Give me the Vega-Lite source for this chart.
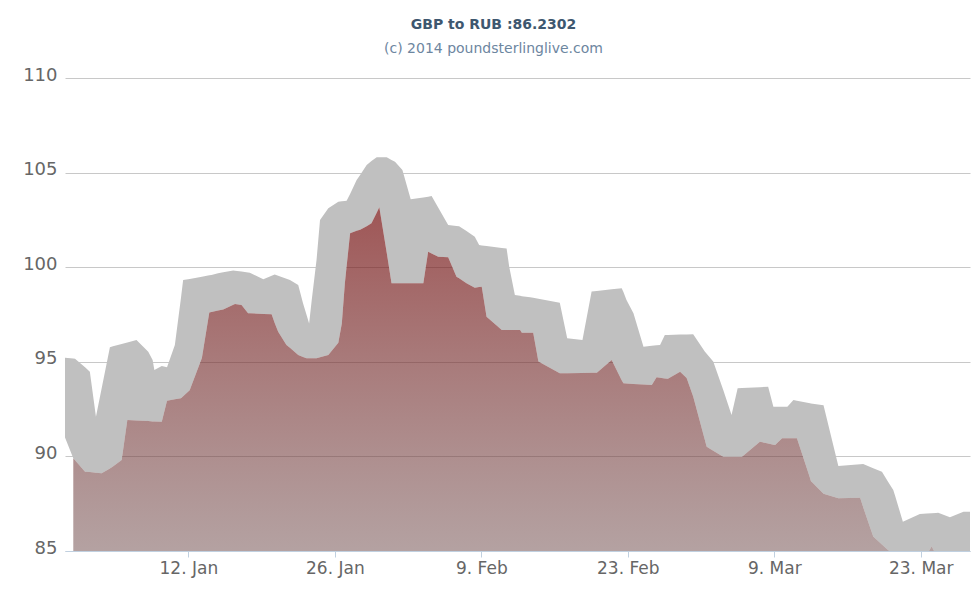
{
  "$schema": "https://vega.github.io/schema/vega-lite/v6.json",
  "width": 905,
  "height": 473,
  "autosize": {"type": "none"},
  "padding": {"left": 65, "top": 78, "right": 2, "bottom": 48},
  "background": "white",
  "config": {"view": {"stroke": null}, "font": "DejaVu Sans"},
  "title": {
    "text": "GBP to RUB :86.2302",
    "subtitle": "(c) 2014 poundsterlinglive.com",
    "anchor": "middle",
    "frame": "group",
    "dx": -24,
    "offset": 10,
    "font": "DejaVu Sans",
    "fontSize": 14,
    "fontWeight": "bold",
    "color": "#3E576F",
    "subtitleFont": "DejaVu Sans",
    "subtitleFontSize": 14,
    "subtitleColor": "#6D869F",
    "subtitlePadding": 10
  },
  "data": {"values": [
    {"date": "2014-12-31T05:00", "rate": 91.0, "upper": 95.22},
    {"date": "2015-01-01T00:00", "rate": 89.90, "upper": 95.17},
    {"date": "2015-01-01T04:00", "rate": 89.80, "upper": 95.16},
    {"date": "2015-01-02T03:00", "rate": 89.19, "upper": 94.71},
    {"date": "2015-01-02T14:00", "rate": 89.17, "upper": 94.48},
    {"date": "2015-01-03T04:00", "rate": 89.14, "upper": 92.10},
    {"date": "2015-01-03T17:00", "rate": 89.11, "upper": 93.59},
    {"date": "2015-01-04T12:00", "rate": 89.36, "upper": 95.77},
    {"date": "2015-01-04T19:00", "rate": 89.46, "upper": 95.82},
    {"date": "2015-01-05T15:00", "rate": 89.81, "upper": 95.94},
    {"date": "2015-01-06T04:00", "rate": 91.92, "upper": 96.02},
    {"date": "2015-01-07T01:00", "rate": 91.90, "upper": 96.15},
    {"date": "2015-01-08T04:00", "rate": 91.87, "upper": 95.53},
    {"date": "2015-01-08T14:00", "rate": 91.85, "upper": 95.10},
    {"date": "2015-01-08T18:00", "rate": 91.85, "upper": 94.57},
    {"date": "2015-01-09T11:00", "rate": 91.83, "upper": 94.78},
    {"date": "2015-01-09T23:00", "rate": 92.94, "upper": 94.71},
    {"date": "2015-01-10T17:00", "rate": 93.02, "upper": 95.89},
    {"date": "2015-01-11T07:00", "rate": 93.07, "upper": 98.37},
    {"date": "2015-01-11T12:00", "rate": 93.18, "upper": 99.32},
    {"date": "2015-01-12T03:00", "rate": 93.50, "upper": 99.38},
    {"date": "2015-01-13T07:00", "rate": 95.20, "upper": 99.50},
    {"date": "2015-01-14T00:00", "rate": 97.60, "upper": 99.57},
    {"date": "2015-01-14T05:00", "rate": 97.63, "upper": 99.59},
    {"date": "2015-01-14T20:00", "rate": 97.71, "upper": 99.68},
    {"date": "2015-01-15T08:00", "rate": 97.77, "upper": 99.73},
    {"date": "2015-01-16T07:00", "rate": 98.01, "upper": 99.82},
    {"date": "2015-01-16T11:00", "rate": 98.05, "upper": 99.81},
    {"date": "2015-01-17T02:00", "rate": 98.00, "upper": 99.77},
    {"date": "2015-01-17T17:00", "rate": 97.56, "upper": 99.72},
    {"date": "2015-01-17T21:00", "rate": 97.56, "upper": 99.71},
    {"date": "2015-01-19T04:00", "rate": 97.53, "upper": 99.36},
    {"date": "2015-01-19T23:00", "rate": 97.51, "upper": 99.55},
    {"date": "2015-01-20T06:00", "rate": 97.05, "upper": 99.62},
    {"date": "2015-01-20T14:00", "rate": 96.59, "upper": 99.55},
    {"date": "2015-01-21T09:00", "rate": 95.89, "upper": 99.39},
    {"date": "2015-01-21T17:00", "rate": 95.74, "upper": 99.32},
    {"date": "2015-01-22T12:00", "rate": 95.36, "upper": 99.06},
    {"date": "2015-01-22T23:00", "rate": 95.26, "upper": 98.09},
    {"date": "2015-01-23T07:00", "rate": 95.19, "upper": 97.49},
    {"date": "2015-01-23T13:00", "rate": 95.19, "upper": 97.03},
    {"date": "2015-01-23T19:00", "rate": 95.19, "upper": 98.27},
    {"date": "2015-01-24T06:00", "rate": 95.19, "upper": 100.38},
    {"date": "2015-01-24T14:00", "rate": 95.24, "upper": 102.49},
    {"date": "2015-01-25T09:00", "rate": 95.36, "upper": 103.11},
    {"date": "2015-01-26T08:00", "rate": 96.01, "upper": 103.46},
    {"date": "2015-01-26T16:00", "rate": 97.03, "upper": 103.48},
    {"date": "2015-01-26T23:00", "rate": 99.15, "upper": 103.50},
    {"date": "2015-01-27T03:00", "rate": 100.05, "upper": 103.51},
    {"date": "2015-01-27T11:00", "rate": 101.79, "upper": 103.87},
    {"date": "2015-01-28T02:00", "rate": 101.92, "upper": 104.61},
    {"date": "2015-01-28T10:00", "rate": 101.98, "upper": 104.87},
    {"date": "2015-01-29T01:00", "rate": 102.17, "upper": 105.40},
    {"date": "2015-01-29T12:00", "rate": 102.32, "upper": 105.61},
    {"date": "2015-01-30T00:00", "rate": 102.88, "upper": 105.81},
    {"date": "2015-01-30T06:00", "rate": 103.17, "upper": 105.81},
    {"date": "2015-01-30T23:00", "rate": 100.77, "upper": 105.81},
    {"date": "2015-01-31T10:00", "rate": 99.15, "upper": 105.67},
    {"date": "2015-01-31T18:00", "rate": 99.15, "upper": 105.58},
    {"date": "2015-02-01T11:00", "rate": 99.15, "upper": 105.14},
    {"date": "2015-02-02T06:00", "rate": 99.15, "upper": 103.59},
    {"date": "2015-02-03T11:00", "rate": 99.15, "upper": 103.69},
    {"date": "2015-02-03T22:00", "rate": 100.82, "upper": 103.73},
    {"date": "2015-02-04T06:00", "rate": 100.73, "upper": 103.76},
    {"date": "2015-02-04T21:00", "rate": 100.55, "upper": 103.15},
    {"date": "2015-02-05T20:00", "rate": 100.52, "upper": 102.23},
    {"date": "2015-02-06T15:00", "rate": 99.50, "upper": 102.18},
    {"date": "2015-02-06T21:00", "rate": 99.41, "upper": 102.17},
    {"date": "2015-02-07T14:00", "rate": 99.15, "upper": 101.91},
    {"date": "2015-02-08T09:00", "rate": 98.92, "upper": 101.61},
    {"date": "2015-02-08T19:00", "rate": 98.95, "upper": 101.17},
    {"date": "2015-02-09T01:00", "rate": 98.97, "upper": 101.15},
    {"date": "2015-02-09T12:00", "rate": 97.38, "upper": 101.12},
    {"date": "2015-02-10T23:00", "rate": 96.68, "upper": 101.02},
    {"date": "2015-02-11T10:00", "rate": 96.68, "upper": 100.99},
    {"date": "2015-02-11T16:00", "rate": 96.68, "upper": 100.03},
    {"date": "2015-02-12T05:00", "rate": 96.68, "upper": 98.53},
    {"date": "2015-02-12T17:00", "rate": 96.68, "upper": 98.49},
    {"date": "2015-02-12T21:00", "rate": 96.54, "upper": 98.47},
    {"date": "2015-02-13T16:00", "rate": 96.54, "upper": 98.41},
    {"date": "2015-02-13T23:00", "rate": 96.54, "upper": 98.38},
    {"date": "2015-02-14T11:00", "rate": 95.01, "upper": 98.33},
    {"date": "2015-02-16T12:00", "rate": 94.39, "upper": 98.12},
    {"date": "2015-02-17T05:00", "rate": 94.40, "upper": 96.24},
    {"date": "2015-02-18T16:00", "rate": 94.41, "upper": 96.15},
    {"date": "2015-02-19T13:00", "rate": 94.42, "upper": 98.71},
    {"date": "2015-02-20T01:00", "rate": 94.42, "upper": 98.74},
    {"date": "2015-02-21T11:00", "rate": 95.10, "upper": 98.83},
    {"date": "2015-02-22T10:00", "rate": 94.03, "upper": 98.89},
    {"date": "2015-02-22T14:00", "rate": 93.86, "upper": 98.69},
    {"date": "2015-02-22T21:00", "rate": 93.85, "upper": 98.27},
    {"date": "2015-02-23T13:00", "rate": 93.83, "upper": 97.56},
    {"date": "2015-02-24T12:00", "rate": 93.80, "upper": 95.80},
    {"date": "2015-02-25T07:00", "rate": 93.77, "upper": 95.85},
    {"date": "2015-02-25T18:00", "rate": 94.18, "upper": 95.87},
    {"date": "2015-02-26T02:00", "rate": 94.16, "upper": 95.89},
    {"date": "2015-02-26T13:00", "rate": 94.12, "upper": 96.42},
    {"date": "2015-02-26T20:00", "rate": 94.10, "upper": 96.42},
    {"date": "2015-02-28T00:00", "rate": 94.48, "upper": 96.44},
    {"date": "2015-02-28T15:00", "rate": 94.15, "upper": 96.44},
    {"date": "2015-03-01T06:00", "rate": 93.16, "upper": 96.45},
    {"date": "2015-03-02T09:00", "rate": 90.85, "upper": 95.53},
    {"date": "2015-03-02T13:00", "rate": 90.51, "upper": 95.42},
    {"date": "2015-03-03T04:00", "rate": 90.30, "upper": 95.01},
    {"date": "2015-03-04T03:00", "rate": 89.98, "upper": 93.51},
    {"date": "2015-03-04T22:00", "rate": 89.98, "upper": 92.19},
    {"date": "2015-03-05T12:00", "rate": 89.98, "upper": 93.60},
    {"date": "2015-03-05T22:00", "rate": 89.98, "upper": 93.61},
    {"date": "2015-03-07T15:00", "rate": 90.78, "upper": 93.66},
    {"date": "2015-03-08T10:00", "rate": 90.68, "upper": 93.68},
    {"date": "2015-03-08T22:00", "rate": 90.62, "upper": 92.63},
    {"date": "2015-03-09T02:00", "rate": 90.60, "upper": 92.63},
    {"date": "2015-03-09T18:00", "rate": 90.96, "upper": 92.63},
    {"date": "2015-03-10T06:00", "rate": 90.96, "upper": 92.63},
    {"date": "2015-03-10T20:00", "rate": 90.96, "upper": 92.98},
    {"date": "2015-03-11T04:00", "rate": 90.96, "upper": 92.94},
    {"date": "2015-03-12T10:00", "rate": 88.86, "upper": 92.81},
    {"date": "2015-03-12T12:00", "rate": 88.70, "upper": 92.80},
    {"date": "2015-03-13T17:00", "rate": 88.02, "upper": 92.70},
    {"date": "2015-03-15T03:00", "rate": 87.79, "upper": 89.49},
    {"date": "2015-03-17T05:00", "rate": 87.82, "upper": 89.59},
    {"date": "2015-03-17T12:00", "rate": 87.31, "upper": 89.60},
    {"date": "2015-03-18T11:00", "rate": 85.76, "upper": 89.38},
    {"date": "2015-03-19T07:00", "rate": 85.35, "upper": 89.19},
    {"date": "2015-03-19T21:00", "rate": 85.05, "upper": 88.66},
    {"date": "2015-03-20T09:00", "rate": 84.86, "upper": 88.22},
    {"date": "2015-03-20T13:00", "rate": 84.80, "upper": 87.93},
    {"date": "2015-03-21T07:00", "rate": 84.80, "upper": 86.55},
    {"date": "2015-03-22T22:00", "rate": 84.80, "upper": 86.96},
    {"date": "2015-03-23T14:00", "rate": 84.80, "upper": 86.98},
    {"date": "2015-03-24T01:00", "rate": 85.25, "upper": 86.99},
    {"date": "2015-03-24T11:00", "rate": 84.80, "upper": 87.01},
    {"date": "2015-03-24T16:00", "rate": 84.80, "upper": 87.02},
    {"date": "2015-03-25T19:00", "rate": 84.80, "upper": 86.78},
    {"date": "2015-03-27T02:00", "rate": 84.80, "upper": 87.08},
    {"date": "2015-03-27T22:00", "rate": 84.80, "upper": 87.08}
  ]},
  "encoding": {
    "x": {
      "field": "date",
      "type": "temporal",
      "scale": {
        "domain": [
          {"year": 2014, "month": 12, "date": 31, "hours": 5},
          {"year": 2015, "month": 3, "date": 27, "hours": 17}
        ],
        "nice": false
      },
      "axis": {
        "title": null,
        "grid": false,
        "values": [
          {"year": 2015, "month": 1, "date": 12},
          {"year": 2015, "month": 1, "date": 26},
          {"year": 2015, "month": 2, "date": 9},
          {"year": 2015, "month": 2, "date": 23},
          {"year": 2015, "month": 3, "date": 9},
          {"year": 2015, "month": 3, "date": 23}
        ],
        "format": "%-d. %b",
        "domainColor": "#C0D0E0",
        "domainWidth": 1,
        "tickColor": "#C0D0E0",
        "tickSize": 6,
        "labelFont": "DejaVu Sans",
        "labelFontSize": 17,
        "labelColor": "#666666",
        "labelPadding": 3,
        "labelOverlap": false,
        "zindex": 1
      }
    }
  },
  "layer": [
    {
      "mark": {"type": "area", "clip": true, "color": "#c0c0c0", "opacity": 1},
      "encoding": {
        "y": {
          "field": "upper",
          "type": "quantitative",
          "scale": {"domain": [85, 110], "nice": false, "zero": false},
          "axis": {
            "title": null,
            "values": [85, 90, 95, 100, 105, 110],
            "domain": false,
            "ticks": false,
            "grid": true,
            "gridColor": "#C8C8C8",
            "gridWidth": 1,
            "labelFont": "DejaVu Sans",
            "labelFontSize": 18,
            "labelColor": "#666666",
            "labelPadding": 8,
            "labelOffset": -3
          }
        },
        "y2": {"field": "rate"}
      }
    },
    {
      "transform": [{"filter": "year(datum.date) >= 2015"}],
      "mark": {
        "type": "area",
        "clip": true,
        "fill": {
          "gradient": "linear",
          "x1": 0, "y1": 0, "x2": 0, "y2": 1,
          "stops": [
            {"offset": 0, "color": "rgba(118,14,14,0.70)"},
            {"offset": 1, "color": "rgba(119,86,86,0.55)"}
          ]
        }
      },
      "encoding": {
        "y": {
          "field": "rate",
          "type": "quantitative",
          "axis": {
            "title": null,
            "values": [85, 90, 95, 100, 105, 110],
            "domain": false,
            "ticks": false,
            "grid": true,
            "gridColor": "#C8C8C8",
            "gridWidth": 1,
            "labelFont": "DejaVu Sans",
            "labelFontSize": 18,
            "labelColor": "#666666",
            "labelPadding": 8,
            "labelOffset": -3
          }
        },
        "y2": {"datum": 85}
      }
    }
  ]
}
